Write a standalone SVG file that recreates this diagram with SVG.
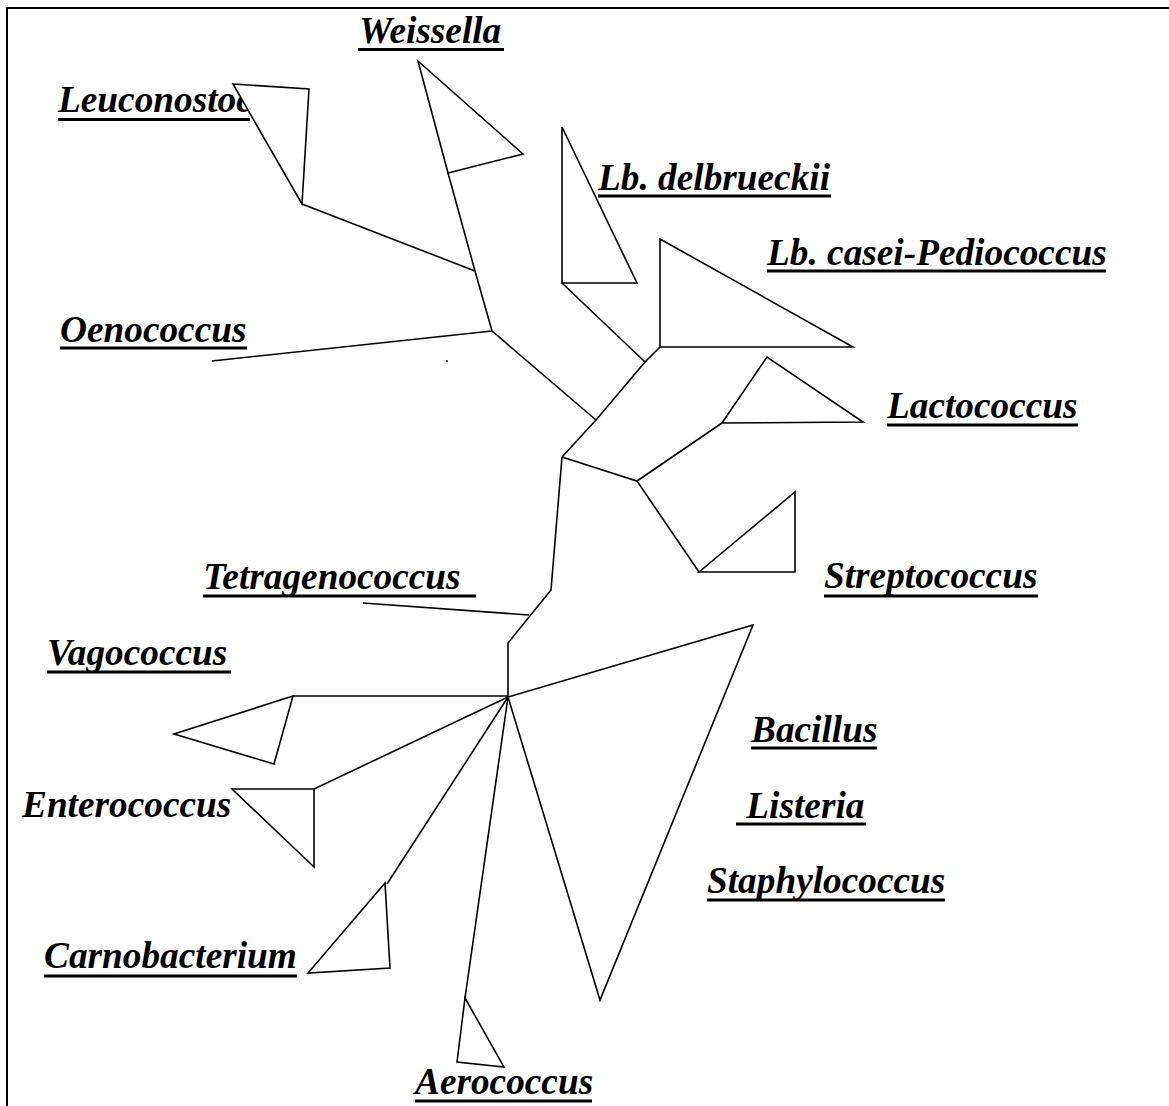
<svg xmlns="http://www.w3.org/2000/svg" width="1169" height="1106" viewBox="0 0 1169 1106">
<style>
.lbl{font-family:"Liberation Serif","Times New Roman",serif;font-weight:bold;font-style:italic;font-size:37.3px;fill:#000;white-space:pre}
.ul{stroke:#000;stroke-width:3.2;fill:none}
.tri{fill:#fff;stroke:#000;stroke-width:1.6;stroke-linejoin:miter}
.br{stroke:#000;stroke-width:1.6;fill:none;stroke-linejoin:miter}
</style>
<rect x="7" y="8" width="1180" height="1120" fill="none" stroke="#000" stroke-width="2"/>
<g id="connectors" class="br">
<polyline points="302,204 475,271"/>
<polyline points="448,173 475,271 492,331"/>
<polyline points="212,361 492,331"/>
<polyline points="492,331 596,420"/>
<polyline points="562,283 645,362"/>
<polyline points="660,347 645,362 596,420 562,457"/>
<polyline points="562,457 637,481 722,423"/>
<polyline points="637,481 699,572"/>
<polyline points="562,457 551,590 508,643 508,697"/>
<polyline points="363,603 529,615"/>
<polyline points="293,696 508,696"/>
<polyline points="508,697 314,789"/>
<polyline points="508,697 387,884"/>
<polyline points="508,697 465,998"/>
<circle cx="447" cy="361" r="0.9" fill="#000" stroke="none"/>
</g>
<g id="weissella">
<text class="lbl" x="359" y="43">Weissella</text><line class="ul" x1="358" y1="49.5" x2="504" y2="49.5"/>
<polygon class="tri" points="418,61 523,154 448,173"/>
</g>
<g id="leuconostoc">
<text class="lbl" x="58" y="112">Leuconostoc</text><line class="ul" x1="58" y1="119.5" x2="250" y2="119.5"/>
<polygon class="tri" points="233,84 309,89 302,204"/>
</g>
<g id="lb-delbrueckii">
<text class="lbl" x="598" y="190">Lb. delbrueckii</text><line class="ul" x1="598" y1="196" x2="831" y2="196"/>
<polygon class="tri" points="562,127 637,283 562,283"/>
</g>
<g id="lb-casei-pediococcus">
<text class="lbl" x="767" y="265">Lb. casei-Pediococcus</text><line class="ul" x1="767" y1="271" x2="1106" y2="271"/>
<polygon class="tri" points="660,239 853,347 660,347"/>
</g>
<g id="oenococcus">
<text class="lbl" x="60" y="342">Oenococcus</text><line class="ul" x1="60" y1="348" x2="247" y2="348"/>
</g>
<g id="lactococcus">
<text class="lbl" x="887" y="418">Lactococcus</text><line class="ul" x1="887" y1="425" x2="1078" y2="425"/>
<polygon class="tri" points="722,423 767,357 863,422"/>
</g>
<g id="streptococcus">
<text class="lbl" x="824" y="588">Streptococcus</text><line class="ul" x1="824" y1="596" x2="1038" y2="596"/>
<polygon class="tri" points="699,572 795,492 795,572"/>
</g>
<g id="tetragenococcus">
<text class="lbl" x="203" y="589">Tetragenococcus </text><line class="ul" x1="203" y1="596" x2="476" y2="596"/>
</g>
<g id="vagococcus">
<text class="lbl" x="47" y="665">Vagococcus</text><line class="ul" x1="47" y1="672" x2="231" y2="672"/>
<polygon class="tri" points="293,696 174,734 274,764"/>
</g>
<g id="enterococcus">
<text class="lbl" x="22" y="817">Enterococcus</text>
<polygon class="tri" points="314,789 232,789 314,867"/>
</g>
<g id="bacillus-listeria-staphylococcus">
<polygon class="tri" points="508,697 753,625 600,1000"/>
<text class="lbl" x="751" y="742">Bacillus</text><line class="ul" x1="751" y1="748" x2="877" y2="748"/>
<text class="lbl" x="737" y="818"> Listeria</text><line class="ul" x1="736" y1="824" x2="866" y2="824"/>
<text class="lbl" x="707" y="893">Staphylococcus</text><line class="ul" x1="707" y1="900" x2="945" y2="900"/>
</g>
<g id="carnobacterium">
<text class="lbl" x="44" y="968">Carnobacterium</text><line class="ul" x1="44" y1="976" x2="297" y2="976"/>
<polygon class="tri" points="385,883 308,973 390,968"/>
</g>
<g id="aerococcus">
<polygon class="tri" points="465,998 457,1062 504,1067"/>
<text class="lbl" x="415" y="1094">Aerococcus</text><line class="ul" x1="415" y1="1101" x2="592" y2="1101"/>
</g>
</svg>
